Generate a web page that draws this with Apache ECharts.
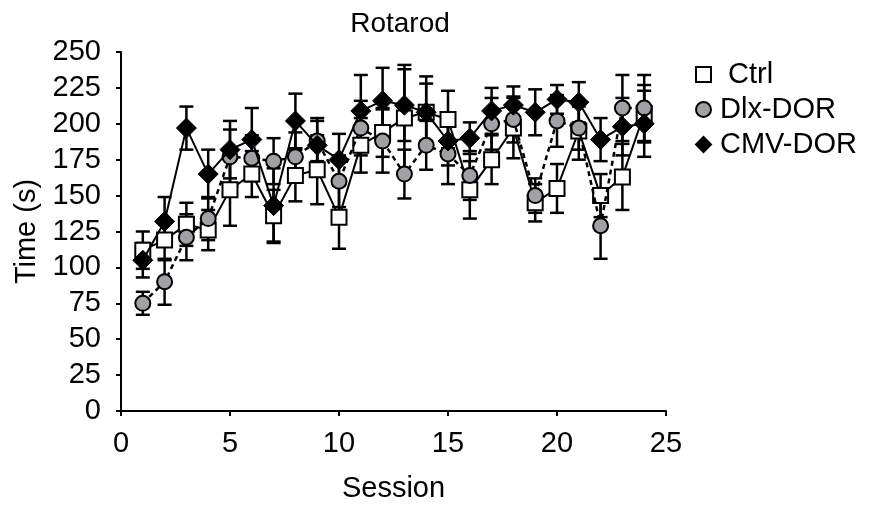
<!DOCTYPE html>
<html>
<head>
<meta charset="utf-8">
<script src="https://cdn.jsdelivr.net/npm/echarts@6/dist/echarts.min.js"></script>
<style>
  html, body { margin: 0; padding: 0; background: #fff; }
  #main { width: 876px; height: 508px; }
</style>
</head>
<body>
<div id="main"></div>
<script>
// sessions 1..24
var sessions = [1,2,3,4,5,6,7,8,9,10,11,12,13,14,15,16,17,18,19,20,21,22,23,24]
var ctrl    = [112,119,130,126,154,165,136,164,168,135,185,194,204,208,203,154,175,197,145,155,195,150,163,207]
var ctrlErr = [13,14,15,14,25,16,18,18,24,22,19,17,37,20,20,20,17,21,13,17,20,15,23,20]
var dlx     = [75,90,121,134,177,176,174,177,188,160,197,188,165,185,179,164,200,203,150,202,197,129,211,211]
var dlxErr  = [8,16,16,15,19,16,16,17,14,18,19,22,17,17,21,17,18,16,12,18,15,23,23,23]
var cmv     = [105,132,197,165,182,189,143,202,185,175,209,216,213,208,188,190,209,213,208,217,215,189,198,200]
var cmvErr  = [12,17,15,17,20,22,26,19,19,18,25,23,25,25,17,11,16,13,16,10,14,15,20,23]

var font = 'Liberation Sans, Arial, sans-serif'
var fs = 29

function pairs(vals) {
  return sessions.map(function (s, i) { return [s, vals[i]] })
}
function errData(vals, errs) {
  return sessions.map(function (s, i) { return [s, vals[i] - errs[i], vals[i] + errs[i]] })
}

function errorBar(name, vals, errs) {
  return {
    type: 'custom',
    name: name + ' err',
    z: 1,
    silent: true,
    renderItem: function (params, api) {
      var x = api.value(0)
      var lo = api.coord([x, api.value(1)])
      var hi = api.coord([x, api.value(2)])
      var w = 7
      var st = { stroke: '#000', lineWidth: 2.5 }
      return {
        type: 'group',
        children: [
          { type: 'line', shape: { x1: lo[0], y1: lo[1], x2: hi[0], y2: hi[1] }, style: st },
          { type: 'line', shape: { x1: lo[0] - w, y1: lo[1], x2: lo[0] + w, y2: lo[1] }, style: st },
          { type: 'line', shape: { x1: hi[0] - w, y1: hi[1], x2: hi[0] + w, y2: hi[1] }, style: st }
        ]
      }
    },
    data: errData(vals, errs)
  }
}

var chart = echarts.init(document.getElementById('main'))

var option = {
  animation: false,
  backgroundColor: '#fff',
  title: {
    text: 'Rotarod',
    left: 395,
    textAlign: 'center',
    top: 5,
    textStyle: { fontFamily: font, fontSize: 28, fontWeight: 'normal', color: '#000' }
  },
  legend: {
    orient: 'vertical',
    left: 690,
    top: 55,
    itemGap: 6,
    itemWidth: 15,
    itemHeight: 15,
    textStyle: { fontFamily: font, fontSize: fs, color: '#000', padding: [0, 0, 0, 4] },
    formatter: function (name) { return name == 'Ctrl' ? ' ' + name : name },
    data: [
      { name: 'Ctrl', icon: 'rect' },
      { name: 'Dlx-DOR', icon: 'circle' },
      { name: 'CMV-DOR', icon: 'diamond' }
    ]
  },
  grid: { left: 121, right: 210, top: 52, bottom: 95 },
  xAxis: {
    type: 'value',
    min: 0, max: 25, interval: 5,
    name: 'Session',
    nameLocation: 'middle',
    nameGap: 63,
    nameTextStyle: { fontFamily: font, fontSize: fs, color: '#000' },
    axisLine: { lineStyle: { color: '#000', width: 2 } },
    axisTick: { show: true, length: 5, lineStyle: { color: '#000', width: 2 } },
    axisLabel: { fontFamily: font, fontSize: fs, color: '#000', margin: 18 },
    splitLine: { show: false }
  },
  yAxis: {
    type: 'value',
    min: 0, max: 250, interval: 25,
    name: 'Time (s)',
    nameLocation: 'middle',
    nameGap: 79,
    nameTextStyle: { fontFamily: font, fontSize: fs, color: '#000' },
    axisLine: { show: true, lineStyle: { color: '#000', width: 2 } },
    axisTick: { show: true, length: 5, lineStyle: { color: '#000', width: 2 } },
    axisLabel: { fontFamily: font, fontSize: fs, color: '#000', margin: 20 },
    splitLine: { show: false }
  },
  series: [
    errorBar('Ctrl', ctrl, ctrlErr),
    errorBar('Dlx-DOR', dlx, dlxErr),
    errorBar('CMV-DOR', cmv, cmvErr),
    {
      type: 'line', name: 'Ctrl', z: 3,
      data: pairs(ctrl),
      symbol: 'rect', symbolSize: 15,
      showAllSymbol: true,
      lineStyle: { color: '#000', width: 2 },
      itemStyle: { color: '#fff', borderColor: '#000', borderWidth: 2 }
    },
    {
      type: 'line', name: 'Dlx-DOR', z: 4,
      data: pairs(dlx),
      symbol: 'circle', symbolSize: 15,
      showAllSymbol: true,
      lineStyle: { color: '#000', width: 2.5, type: [5, 4] },
      itemStyle: { color: '#a0a0a6', borderColor: '#000', borderWidth: 2 }
    },
    {
      type: 'line', name: 'CMV-DOR', z: 5,
      data: pairs(cmv),
      symbol: 'diamond', symbolSize: 20,
      showAllSymbol: true,
      lineStyle: { color: '#000', width: 2 },
      itemStyle: { color: '#000', borderColor: '#000', borderWidth: 1 }
    }
  ]
}

chart.setOption(option)
</script>
</body>
</html>
